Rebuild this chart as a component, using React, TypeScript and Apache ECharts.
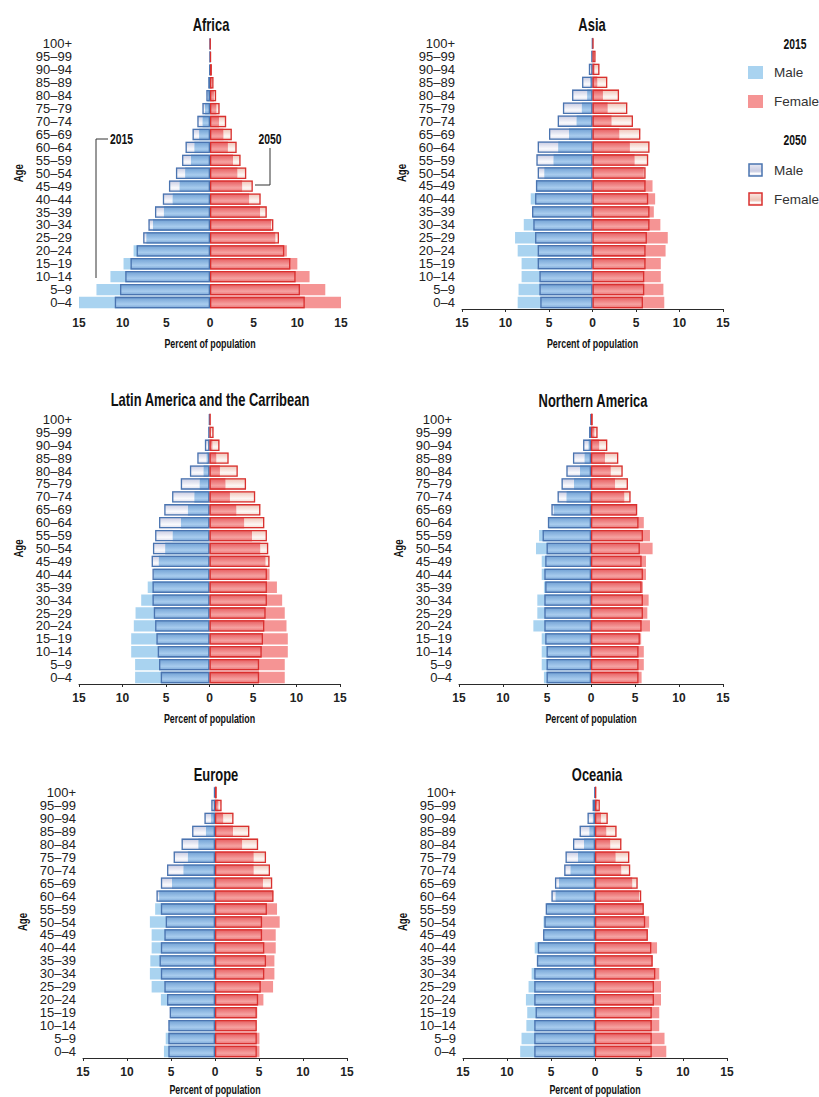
import React, { useEffect, useRef } from "react";
import * as echarts from "echarts";

const AGES = ["0–4","5–9","10–14","15–19","20–24","25–29","30–34","35–39","40–44","45–49","50–54","55–59","60–64","65–69","70–74","75–79","80–84","85–89","90–94","95–99","100+"];
const X_TICKS_MIN = -15;
const X_TICKS_MAX = 15;
const X_TICK_STEP = 5;

// Africa
const africaMale2015 = [15.0,13.0,11.4,9.9,8.75,7.3,6.55,5.3,4.3,3.5,2.85,2.2,1.8,1.25,0.87,0.57,0.3,0.13,0.04,0.01,0.0];
const africaFemale2015 = [15.0,13.2,11.4,10.0,8.8,7.5,7.0,5.75,4.5,3.7,3.15,2.65,2.05,1.55,1.05,0.75,0.45,0.2,0.08,0.03,0.01];
const africaMale2050 = [10.9,10.3,9.7,9.1,8.4,7.65,7.05,6.3,5.4,4.7,3.9,3.2,2.8,2.0,1.45,0.87,0.42,0.2,0.07,0.02,0.01];
const africaFemale2050 = [10.85,10.3,9.8,9.2,8.5,7.9,7.25,6.5,5.8,4.9,4.15,3.5,3.05,2.5,1.85,1.1,0.7,0.4,0.22,0.12,0.06];
// Asia
const asiaMale2015 = [8.6,8.5,8.15,8.15,8.6,8.9,7.9,6.9,7.1,6.5,5.55,4.5,3.95,2.7,1.85,1.25,0.62,0.3,0.1,0.03,0.0];
const asiaFemale2015 = [8.25,8.15,7.85,7.85,8.4,8.65,7.8,7.05,7.2,6.9,5.9,4.85,4.3,3.1,2.2,1.75,1.2,0.57,0.25,0.08,0.02];
const asiaMale2050 = [6.0,6.1,6.1,6.3,6.3,6.6,6.8,6.95,6.6,6.5,6.3,6.45,6.3,5.0,4.0,3.4,2.35,1.2,0.42,0.15,0.04];
const asiaFemale2050 = [5.8,5.95,5.95,6.1,6.1,6.25,6.55,6.55,6.4,6.1,6.1,6.4,6.55,5.5,4.65,4.0,3.05,1.7,0.8,0.35,0.12];
// Latin America and the Caribbean
const latamMale2015 = [8.55,8.55,9.0,9.0,8.7,8.5,7.85,7.1,6.4,5.85,5.1,4.25,3.3,2.5,1.75,1.15,0.7,0.35,0.13,0.04,0.01];
const latamFemale2015 = [8.65,8.65,9.0,9.0,8.85,8.65,8.35,7.75,6.9,6.45,5.85,4.9,4.0,3.1,2.35,1.85,1.2,0.8,0.35,0.12,0.03];
const latamMale2050 = [5.6,5.8,5.95,6.1,6.25,6.4,6.55,6.55,6.55,6.65,6.5,6.25,5.8,5.2,4.3,3.3,2.25,1.4,0.53,0.15,0.04];
const latamFemale2050 = [5.7,5.7,6.0,6.15,6.3,6.45,6.6,6.6,6.6,6.9,6.75,6.6,6.3,5.85,5.25,4.2,3.25,2.2,1.15,0.47,0.15];
// Northern America
const namMale2015 = [5.35,5.6,5.6,5.6,6.55,6.1,6.1,5.35,5.6,5.6,6.25,5.9,4.8,4.25,2.8,1.95,1.25,0.75,0.3,0.1,0.02];
const namFemale2015 = [5.75,6.0,6.0,5.7,6.7,6.4,6.55,5.9,6.25,6.25,7.0,6.7,6.0,5.15,3.8,2.75,2.25,1.6,0.95,0.4,0.08];
const namMale2050 = [5.05,5.05,5.05,5.2,5.3,5.3,5.3,5.2,5.3,5.2,5.05,5.5,4.9,4.5,3.8,3.35,2.8,2.05,0.9,0.22,0.04];
const namFemale2050 = [5.4,5.4,5.4,5.55,5.75,5.9,5.9,5.75,5.9,5.75,5.55,5.9,5.4,5.25,4.5,4.2,3.6,3.1,1.85,0.75,0.2];
// Europe
const europeMale2015 = [5.8,5.6,5.25,5.1,6.15,7.2,7.4,7.35,7.2,7.2,7.4,6.8,6.35,4.9,3.6,3.1,1.9,1.05,0.45,0.12,0.02];
const europeFemale2015 = [5.05,5.05,4.7,4.8,5.5,6.6,6.75,6.75,6.9,6.9,7.35,7.05,6.6,5.45,4.4,4.4,3.1,2.05,0.95,0.4,0.08];
const europeMale2050 = [5.3,5.3,5.3,5.15,5.45,5.75,6.15,6.3,6.15,5.75,5.6,6.15,6.65,6.15,5.45,4.7,3.8,2.6,1.2,0.42,0.12];
const europeFemale2050 = [4.75,4.75,4.75,4.75,4.9,5.2,5.6,5.8,5.6,5.35,5.35,5.9,6.65,6.5,6.25,5.8,4.9,3.9,2.1,0.75,0.2];
// Oceania
const oceaniaMale2015 = [8.5,8.35,7.8,7.7,7.85,7.55,7.2,6.6,6.85,5.85,5.85,5.45,4.5,4.1,2.8,1.95,1.25,0.65,0.27,0.08,0.02];
const oceaniaFemale2015 = [8.1,7.9,7.3,7.3,7.5,7.5,7.3,6.55,7.05,6.0,6.15,5.5,5.0,4.25,3.0,2.35,1.75,1.3,0.7,0.3,0.07];
const oceaniaMale2050 = [6.9,6.9,6.9,6.75,6.9,6.9,6.9,6.6,6.5,5.9,5.75,5.6,4.95,4.55,3.5,3.35,2.5,1.75,0.85,0.27,0.05];
const oceaniaFemale2050 = [6.45,6.45,6.45,6.45,6.7,6.7,6.85,6.55,6.4,6.0,5.7,5.55,5.25,4.85,4.0,3.9,3.0,2.45,1.45,0.55,0.15];

const REGION_NAMES = ["Africa","Asia","Latin America and the Carribean","Northern America","Europe","Oceania"];
const X_AXIS_NAME = "Percent of population";
const Y_AXIS_NAME = "Age";

const REGIONS = [
  { name: REGION_NAMES[0], m15: africaMale2015, f15: africaFemale2015, m50: africaMale2050, f50: africaFemale2050 },
  { name: REGION_NAMES[1], m15: asiaMale2015, f15: asiaFemale2015, m50: asiaMale2050, f50: asiaFemale2050 },
  { name: REGION_NAMES[2], m15: latamMale2015, f15: latamFemale2015, m50: latamMale2050, f50: latamFemale2050 },
  { name: REGION_NAMES[3], m15: namMale2015, f15: namFemale2015, m50: namMale2050, f50: namFemale2050 },
  { name: REGION_NAMES[4], m15: europeMale2015, f15: europeFemale2015, m50: europeMale2050, f50: europeFemale2050 },
  { name: REGION_NAMES[5], m15: oceaniaMale2015, f15: oceaniaFemale2015, m50: oceaniaMale2050, f50: oceaniaFemale2050 },
];

// layout (page pixels)
const LAYOUT = [
  { left: 79, top: 37.5, width: 262, height: 271.5, titleX: 211, titleY: 25, axisLine: false },
  { left: 462, top: 37, width: 261, height: 272, titleX: 592, titleY: 25, axisLine: true },
  { left: 79, top: 413, width: 261, height: 271, titleX: 210, titleY: 400, axisLine: true },
  { left: 459, top: 413, width: 264, height: 271, titleX: 593, titleY: 401, axisLine: true },
  { left: 83, top: 786, width: 264, height: 272, titleX: 216, titleY: 775, axisLine: true },
  { left: 463, top: 786, width: 264, height: 272, titleX: 597, titleY: 775, axisLine: true },
];

const FONT = "'Liberation Sans', Arial, sans-serif";
const NARROW_SCALE = 0.74;

const C_MALE_2015 = "#a9d3f0";
const C_FEMALE_2015 = "#f59494";
const C_MALE_BORDER = "#4a74b0";
const C_FEMALE_BORDER = "#d9302f";

function grad(stops: [number, string][]) {
  return new echarts.graphic.LinearGradient(0, 0, 0, 1, stops.map(([offset, color]) => ({ offset, color })));
}

function narrowText(text: string, x: number, y: number, size: number, align: string, extra: any = {}) {
  return {
    type: "text",
    x,
    y,
    scaleX: NARROW_SCALE,
    ...extra,
    style: {
      text,
      textAlign: align,
      textVerticalAlign: "middle",
      fontFamily: FONT,
      fontWeight: "bold",
      fontSize: size,
      fill: "#111",
    },
  };
}

export default function App() {
  const ref = useRef<HTMLDivElement>(null);
  useEffect(() => {
    if (!ref.current) return;
    const chart = echarts.init(ref.current, undefined, { renderer: "svg" });

    const maleCore = () => grad([[0, "#6e9ed2"], [0.65, "#a8ccee"], [1, "#79a5d6"]]);
    const maleExcess = () => grad([[0, "#c5c8e0"], [0.65, "#fafafd"], [1, "#d6d9ea"]]);
    const femaleCore = () => grad([[0, "#e5585b"], [0.65, "#f6a2a1"], [1, "#ea6e70"]]);
    const femaleExcess = () => grad([[0, "#eebfb2"], [0.65, "#fdf7f4"], [1, "#f2d3ca"]]);

    const grids: any[] = [];
    const xAxes: any[] = [];
    const yAxes: any[] = [];
    const series: any[] = [];
    const graphics: any[] = [];

    REGIONS.forEach((r, i) => {
      const L = LAYOUT[i];
      grids.push({ left: L.left, top: L.top, width: L.width, height: L.height, containLabel: false });
      xAxes.push({
        type: "value",
        gridIndex: i,
        min: X_TICKS_MIN,
        max: X_TICKS_MAX,
        interval: X_TICK_STEP,
        splitLine: { show: false },
        axisLine: { show: L.axisLine, onZero: false, lineStyle: { color: "#2a2a2a", width: 1 } },
        axisTick: { show: L.axisLine, length: 3, lineStyle: { color: "#2a2a2a" } },
        axisLabel: {
          formatter: (v: number) => String(Math.abs(v)),
          fontFamily: FONT,
          fontWeight: "bold",
          fontSize: 12,
          color: "#222",
          margin: 8,
        },
      });
      yAxes.push({
        type: "category",
        gridIndex: i,
        data: AGES,
        axisLine: { show: false },
        axisTick: { show: false },
        splitLine: { show: false },
        axisLabel: { interval: 0, fontFamily: FONT, fontSize: 13, color: "#222", margin: 7 },
      });

      const base = {
        type: "bar",
        xAxisIndex: i,
        yAxisIndex: i,
        barGap: "-100%",
        barCategoryGap: "12%",
        silent: true,
      };
      const coreM = r.m15.map((v, k) => -Math.min(v, r.m50[k]));
      const excessM = r.m15.map((v, k) => -Math.max(0, r.m50[k] - v));
      const coreF = r.f15.map((v, k) => Math.min(v, r.f50[k]));
      const excessF = r.f15.map((v, k) => Math.max(0, r.f50[k] - v));

      series.push({ ...base, name: "Male 2015", data: r.m15.map((v) => -v), itemStyle: { color: C_MALE_2015 } });
      series.push({ ...base, name: "Female 2015", data: r.f15.slice(), itemStyle: { color: C_FEMALE_2015 } });
      series.push({ ...base, name: "Male 2050 core", stack: "m" + i, data: coreM, itemStyle: { color: maleCore() } });
      series.push({ ...base, name: "Male 2050 extra", stack: "m" + i, data: excessM, itemStyle: { color: maleExcess() } });
      series.push({ ...base, name: "Female 2050 core", stack: "f" + i, data: coreF, itemStyle: { color: femaleCore() } });
      series.push({ ...base, name: "Female 2050 extra", stack: "f" + i, data: excessF, itemStyle: { color: femaleExcess() } });
      series.push({
        ...base,
        name: "Male 2050",
        data: r.m50.map((v) => -v),
        itemStyle: { color: "rgba(0,0,0,0)", borderColor: C_MALE_BORDER, borderWidth: 1.3 },
      });
      series.push({
        ...base,
        name: "Female 2050",
        data: r.f50.slice(),
        itemStyle: { color: "rgba(0,0,0,0)", borderColor: C_FEMALE_BORDER, borderWidth: 1.3 },
      });

      // title, axis names
      graphics.push(narrowText(r.name, L.titleX, L.titleY, 17.5, "center"));
      graphics.push(narrowText(X_AXIS_NAME, L.left + L.width / 2, Math.min(L.top + L.height + 34, 1089), 12, "center"));
      graphics.push(narrowText(Y_AXIS_NAME, L.left - 61, L.top + L.height / 2, 13, "center", { rotation: Math.PI / 2 }));
    });

    // Africa annotations
    graphics.push({ type: "polyline", shape: { points: [[108, 139], [96, 139], [96, 278]] }, style: { stroke: "#333", lineWidth: 1, fill: null } });
    graphics.push(narrowText("2015", 110, 139, 14, "left"));
    graphics.push({ type: "polyline", shape: { points: [[270, 148], [270, 185], [255, 185]] }, style: { stroke: "#333", lineWidth: 1, fill: null } });
    graphics.push(narrowText("2050", 270, 139, 14, "center"));

    // Legend
    const legText = { fontFamily: FONT, fontSize: 13.5, fill: "#333" };
    graphics.push(narrowText("2015", 795, 44, 14, "center"));
    graphics.push({ type: "rect", shape: { x: 748, y: 66, width: 15, height: 13 }, style: { fill: C_MALE_2015 } });
    graphics.push({ type: "text", x: 774, y: 72, style: { text: "Male", textAlign: "left", textVerticalAlign: "middle", ...legText } });
    graphics.push({ type: "rect", shape: { x: 748, y: 95, width: 15, height: 13 }, style: { fill: C_FEMALE_2015 } });
    graphics.push({ type: "text", x: 774, y: 101, style: { text: "Female", textAlign: "left", textVerticalAlign: "middle", ...legText } });
    graphics.push(narrowText("2050", 795, 140, 14, "center"));
    graphics.push({
      type: "rect",
      shape: { x: 749, y: 164, width: 13, height: 12 },
      style: { fill: grad([[0, "#e8e9f3"], [0.6, "#c9cce2"], [0.8, "#ffffff"], [1, "#d6d9ea"]]), stroke: C_MALE_BORDER, lineWidth: 1.5 },
    });
    graphics.push({ type: "text", x: 774, y: 170, style: { text: "Male", textAlign: "left", textVerticalAlign: "middle", ...legText } });
    graphics.push({
      type: "rect",
      shape: { x: 749, y: 193, width: 13, height: 12 },
      style: { fill: grad([[0, "#fbe9e4"], [0.6, "#eec3b6"], [0.8, "#ffffff"], [1, "#f2d3ca"]]), stroke: C_FEMALE_BORDER, lineWidth: 1.5 },
    });
    graphics.push({ type: "text", x: 774, y: 199, style: { text: "Female", textAlign: "left", textVerticalAlign: "middle", ...legText } });

    chart.setOption({
      animation: false,
      backgroundColor: "#ffffff",
      grid: grids,
      xAxis: xAxes,
      yAxis: yAxes,
      series,
      graphic: graphics,
    });
    return () => chart.dispose();
  }, []);
  return <div ref={ref} style={{ position: "absolute", left: 0, top: 0, width: 819, height: 1097 }} />;
}
